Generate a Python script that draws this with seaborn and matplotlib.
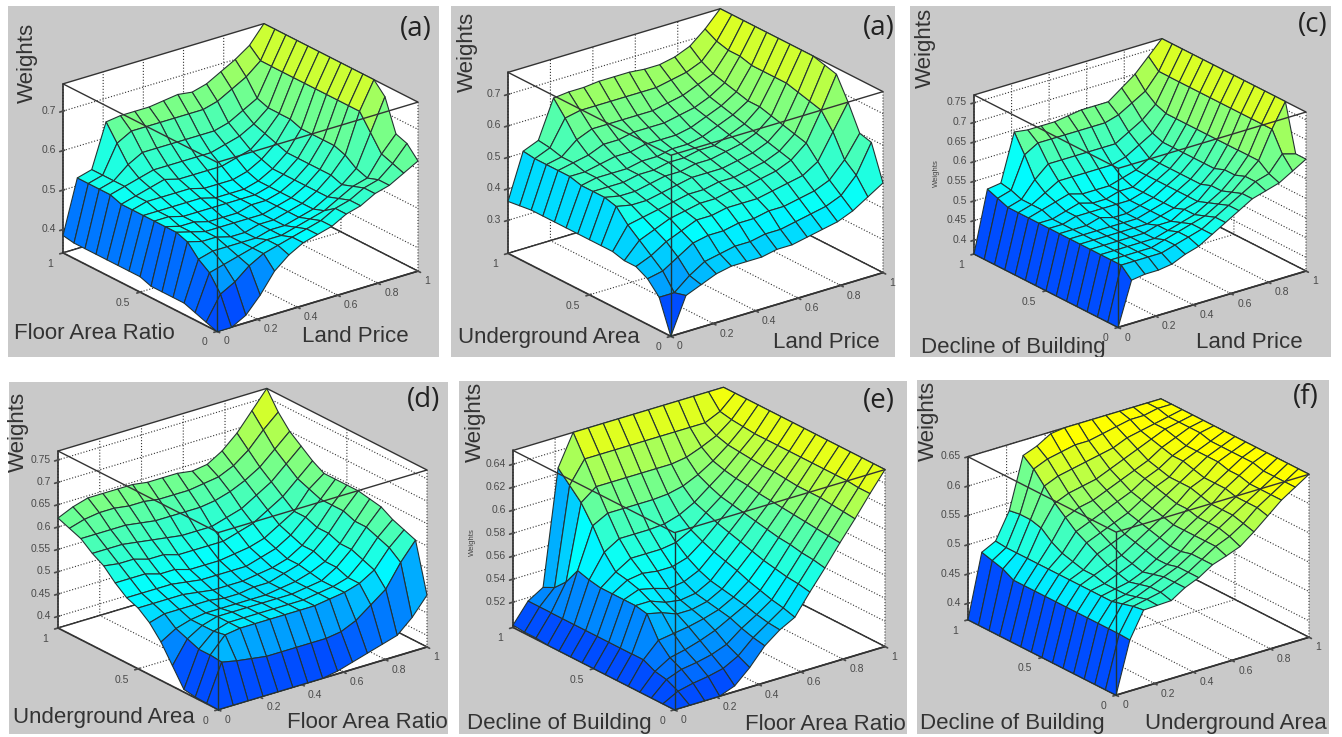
import numpy as np
import matplotlib
matplotlib.use("Agg")
import matplotlib.pyplot as plt
from matplotlib.patches import Rectangle
from matplotlib.colors import Normalize, LinearSegmentedColormap
from mpl_toolkits.mplot3d import proj3d
import seaborn as sns

sns.set_theme(style="white")
plt.rcParams["font.family"] = ["Liberation Sans", "DejaVu Sans"]
plt.rcParams["grid.linestyle"] = ":"
plt.rcParams["grid.color"] = "#333333"
plt.rcParams["grid.linewidth"] = 0.8
plt.rcParams["axes.edgecolor"] = "#333333"

# Rows follow the left axis (0 to 1), columns the right axis (0 to 1). Values in hundredths.
weights_a = [
 [34,34,36,40,45,48,50,51,52,54,55,57,58,60,62],
 [35,41,43,46,48,49,50,51,52,54,55,57,58,61,65],
 [36,45,46,47,48,49,49,50,51,52,54,56,57,62,66],
 [37,47,48,48,48,48,49,49,50,51,53,55,58,66,74],
 [37,50,49,49,48,48,49,49,50,51,53,56,60,70,76.9],
 [37,51,50,49,49,49,49,49,50,51,53,56,61,70,76.9],
 [37,51,50,50,49,49,49,50,50,51,53,56,61,70,76.9],
 [38,51,51,50,50,50,50,50,50,51,53,56,61,70,76.9],
 [38,51,51,51,51,51,50,50,50,51,53,56,61,70,76.9],
 [38,51,52,52,52,52,51,51,51,52,54,57,62,70,76.9],
 [38,51,52,53,54,53,53,53,53,54,55,58,62,70,76.9],
 [38,52,53,54,55,55,55,55,55,56,57,59,62,70,76.9],
 [38,52,53,56,58,58,58,58,58,58,59,61,63,70,76.9],
 [38,52,53,60,62,62,62,62,62,62,63,65,67,70,76.9],
 [38.5,52,53,64,64.5,64.5,64.5,65,65.5,65,66,68,70,72.5,76.9],
]
weights_b = [
 [19.5,31,33,35,36,36,36,37,37,38,39,40,42,45,48],
 [30,30,34,37,38,39,39,40,40,41,42,43,45,50,59],
 [34,35,38,41,42,42,43,43,44,44,45,46,48,53,60],
 [36,38,41,43,45,45,46,46,46,47,48,49,52,60,68],
 [36,41,43,45,46,47,47,48,48,49,50,52,56,65,75],
 [37,44,45,46,47,48,48,49,49,50,51,53,57,66,76],
 [37,48,47,47,48,49,50,50,50,51,52,54,58,67,77],
 [37,49,48,48,49,50,50,51,51,52,53,55,59,68,77],
 [37,49,49,49,50,50,51,51,52,52,54,56,60,68,77],
 [37,49,50,50,50,51,51,52,52,53,55,57,60,68,77],
 [37,50,50,51,52,52,53,53,53,54,56,58,61,68,77],
 [37,50,51,52,54,54,55,55,55,56,57,59,62,69,77],
 [37,50,51,55,57,57,57,57,57,58,59,61,63,69,77],
 [36.5,50,52,60,61,61,61,61,61,61,62,63,65,70,77],
 [36,50.5,52.5,64.5,65,65,65.5,65.5,65.5,65,65,66,68,72,77],
]
weights_c = [
 [36.5,47.5,48,48,48.5,50,51,53,55,57,59,60,61,63,65],
 [36.5,50,50,50,50,51,52,53,55,57,59,61,62,66,65],
 [36.5,50,50,50,50,51,52,53,54,56,58,61,64,71,77],
 [36.5,50,50,50,50,50,51,52,53,55,57,60,64,71,77],
 [36.5,50,50,50,50,50,51,51,53,54,57,60,64,71,77],
 [36.5,50,50,50,50,50,50,51,52,54,56,59,64,71,77],
 [36.5,50,50,50,50,50,50,51,52,54,56,59,64,71,77],
 [36.5,50,50,50,51,50,50,51,52,54,56,59,64,71,77],
 [36.5,50,50,51,51,51,51,51,52,54,56,59,64,71,77],
 [36.5,50,50,51,52,51,51,52,52,54,56,59,64,71,77],
 [36.5,50,51,52,53,52,52,52,53,54,56,59,64,71,77],
 [36.5,50,51,53,55,55,55,55,55,56,58,60,64,71,77],
 [36.5,50,51,55,58,58,58,58,58,58,60,62,65,71,77],
 [36.5,51,52,60,62,62,62,62,62,62,63,65,67,71,77],
 [36.5,52,52.5,64.5,64,64,64,64.5,65,65,65,67.5,70,73.5,77],
]
weights_d = [
 [37.4,37.4,37.4,37.4,37.4,37.4,37.4,37.4,38,39,40,41,42,45,49],
 [37.5,45.7,45,44.5,44,44,44,44,44,44.5,46,48.5,51,56,60],
 [37.6,46,49.5,50,50,50,50,50,50,50.5,51,52,54,58,61],
 [38,46,49,50,50,50,50,50,50,50.5,51,52,55,59,62],
 [42,47,49,50,50,50,50,50,50,50.5,51,53,56,60,63.5],
 [46,48,49,49.5,49.5,49.5,49.5,49.5,50,50.5,51.5,53,56,60,64],
 [49,50,50,50,50,49.5,49.5,50,50,51,52,54,57,61,64.5],
 [51,51,51,51,50.5,50,50,50,50.5,51,52,54,57,61,64.5],
 [52,52,52,52,51.5,51,51,51,51,52,53,55,58,61,64.5],
 [54,54,54,53,53,52,52,52,52.5,53,54,56,58,62,64.5],
 [56.5,56,56,55,55,54,54,54,54,55,56,58,60,63,66],
 [58,58,58,57.5,57,56.5,56,56,56,57,58,60,62,65,68],
 [60,60,60,60,59.5,59,59,59,59,59.5,60.5,62,64,67,70],
 [61,62,62.5,62.5,62,62,61.5,61.5,61.5,62,62.5,64,66.5,70,73],
 [62,63.5,64.5,64.5,64.5,64.5,64,64,64,63.5,64,66,69,73,77],
]
weights_e = [
 [49.8,49.8,49.8,49.8,50.3,51.5,53,54,54.7,56.5,58.2,60,61.7,63.5,65.2],
 [49.8,50.5,50.8,51,51.3,52,53.2,54.1,55,56.7,58.4,60.1,61.8,63.5,65.2],
 [49.8,51,51.5,51.7,52,52.5,53.5,54.3,55.2,56.8,58.5,60.2,61.9,63.6,65.2],
 [49.8,51.2,52,52.3,52.7,53.2,53.9,54.6,55.5,57,58.7,60.3,62,63.6,65.2],
 [49.8,51.7,53,53.2,53.4,53.7,54.1,54.8,55.8,57.2,58.8,60.4,62,63.6,65.2],
 [49.8,51.7,54.8,54.5,54,54,54.3,55,56.2,57.5,59,60.5,62,63.6,65.2],
 [49.8,51.7,55,55,54.5,54.3,54.5,55.2,56.5,57.8,59.2,60.6,62.1,63.6,65.2],
 [49.8,51.7,55,55.5,55.2,54.8,55,55.6,56.8,58.1,59.4,60.7,62.2,63.6,65.2],
 [49.8,51.7,55,55.8,56,55.8,55.8,56.2,57.2,58.4,59.6,60.9,62.2,63.6,65.2],
 [49.8,51.7,55,56,56.8,56.8,56.8,57,57.7,58.8,59.8,61,62.3,63.6,65.2],
 [49.8,51.7,55.2,57.2,58,58,58,58.1,58.5,59.2,60.2,61.2,62.4,63.6,65.2],
 [49.8,51.7,55.5,59,59.7,59.7,59.7,59.7,59.8,60.1,60.7,61.5,62.5,63.7,65.2],
 [49.9,51.7,54,60.5,61.5,61.5,61.5,61.5,61.5,61.5,61.7,62.2,62.8,63.8,65.2],
 [49.9,51.7,53,61.5,63.4,63.4,63.4,63.4,63.4,63.4,63.4,63.4,63.4,64,65.2],
 [50,51.7,52.5,62.5,65.2,65.2,65.2,65.2,65.2,65.2,65.2,65.2,65.2,65.2,65.2],
]
weights_f = [
 [37.2,45.9,50.3,50.4,50.5,52,53,54.5,55.3,56.2,58,60,62,63.5,65],
 [37.2,46,50,50.5,51,52,53,54.5,56,57,58.5,60.5,62,63.5,65],
 [37.2,46,49.5,50,51,52,53,54.5,56,57.5,59,60.5,62,63.5,65],
 [37.2,46,49,49.5,50.5,51.5,52.5,54,56,57.5,59,60.5,62,63.5,65],
 [37.2,46,49,49.5,50,51,52.5,54,56,57.5,59,61,62.5,64,65],
 [37.2,46,49,49.5,50.5,51.5,53,54.5,56,58,59.5,61,62.5,64,65],
 [37.2,46,49,50,51,52,53.5,55,56.5,58,60,61,63,64,65],
 [37.2,46,49,50,52,53,54,55.5,57,58.5,60,61.5,63,64,65],
 [37.2,46,49,50.5,53,54,55,56,57.5,59,60,62,63,64,65],
 [37.2,46,49,51,54,55,56,57,58,59.5,60.5,62,63,64.5,65],
 [37.2,46,49,52,55.5,56.5,57,58,59,60,61,62.5,63.5,64.5,65],
 [37.2,46,49,53.5,57,58,58.5,59,60,61,62,63,64,64.5,65],
 [37.2,47,49,54,59,60,60.5,61,61.5,62,63,63.5,64,64.5,65],
 [37.2,47.5,49,54,61,62,62.5,63,63,63.5,64,64.5,64.5,65,65],
 [37.2,48,49.2,53.7,62.4,63.3,64.7,65,65,65,65,65,65,65,65],
]

grid_positions = [i / 14 for i in range(15)]
x_ticks = [0, 0.2, 0.4, 0.6, 0.8, 1]
y_ticks = [0, 0.5, 1]
z_ticks_a = [0.4, 0.5, 0.6, 0.7]
z_ticks_b = [0.3, 0.4, 0.5, 0.6, 0.7]
z_ticks_c = [0.4, 0.45, 0.5, 0.55, 0.6, 0.65, 0.7, 0.75]
z_ticks_d = [0.4, 0.45, 0.5, 0.55, 0.6, 0.65, 0.7, 0.75]
z_ticks_e = [0.52, 0.54, 0.56, 0.58, 0.6, 0.62, 0.64]
z_ticks_f = [0.4, 0.45, 0.5, 0.55, 0.6, 0.65]

W, H = 1342, 737
fig = plt.figure(figsize=(W / 100, H / 100), dpi=100, facecolor="white")
surface_cmap = LinearSegmentedColormap.from_list(
    "part_jet", [(0, "#004dff"), (0.39, "#00ffff"), (0.70, "#80ff80"), (1, "#ffff00")])

ELEV, AZIM = 23, -127.5
panels = [
 dict(z=weights_a, zt=z_ticks_a, zlim=(.341,.769), c=(.34,.75), bg=(8,6,439,357), box=(63,418,24,331), hz=169,
      ly="Floor Area Ratio", lx="Land Price", tag="(a)", lyp=(14,334), lxp=(302,337), wp=(27,63), tp=(400,29)),
 dict(z=weights_b, zt=z_ticks_b, zlim=(.195,.77), c=(.20,.74), bg=(451,6,895,357), box=(508,883,11,334), hz=181,
      ly="Underground Area", lx="Land Price", tag="(a)", lyp=(458,337), lxp=(773,342), wp=(467,52), tp=(863,28)),
 dict(z=weights_c, zt=z_ticks_c, zlim=(.365,.77), c=(.365,.745), bg=(910,6,1331,357), box=(974,1306,41,325), hz=159,
      ly="Decline of Building", lx="Land Price", tag="(c)", lyp=(921,347), lxp=(1196,342), wp=(925,48), tp=(1298,25),
      small=(936,173)),
 dict(z=weights_d, zt=z_ticks_d, zlim=(.374,.77), c=(.374,.74), bg=(9,382,448,734), box=(58,427,389,709), hz=177,
      ly="Underground Area", lx="Floor Area Ratio", tag="(d)", lyp=(13,718), lxp=(287,723), wp=(18,432), tp=(407,400)),
 dict(z=weights_e, zt=z_ticks_e, zlim=(.498,.652), c=(.498,.645), bg=(459,381,907,734), box=(513,885,392,705), hz=177,
      ly="Decline of Building", lx="Floor Area Ratio", tag="(e)", lyp=(467,724), lxp=(745,724), wp=(475,422), tp=(863,401),
      small=(472,542)),
 dict(z=weights_f, zt=z_ticks_f, zlim=(.372,.65), c=(.372,.625), bg=(917,380,1329,734), box=(968,1309,400,694), hz=163,
      ly="Decline of Building", lx="Underground Area", tag="(f)", lyp=(920,724), lxp=(1145,724), wp=(928,421), tp=(1293,397)),
]


def fx(x):
    return x / W


def fy(y):
    return 1 - y / H


def fit_axes(ax, left, right, top, bottom, zlim):
    """Scale and shift the square 3D axes so its projected box lands on the wanted pixels."""
    corners = [(a, b, c) for a in (0, 1) for b in (0, 1) for c in zlim]
    for _ in range(3):
        ax.apply_aspect()
        M = ax.get_proj()
        xs, ys, _z = proj3d.proj_transform(*zip(*corners), M)
        pts = ax.transData.transform(np.column_stack([xs, ys]))
        l, r = pts[:, 0].min(), pts[:, 0].max()
        b, t = pts[:, 1].min(), pts[:, 1].max()
        pos = ax.get_position(original=False)
        side = pos.width * W * (right - left) / (r - l)
        cx, cy = (l + r) / 2, (b + t) / 2
        ax_cx, ax_cy = (pos.x0 + pos.width / 2) * W, (pos.y0 + pos.height / 2) * H
        rel_x = (cx - ax_cx) * side / (pos.width * W)
        rel_y = (cy - ax_cy) * side / (pos.width * W)
        new_cx = (left + right) / 2 - rel_x
        new_cy = (H - (top + bottom) / 2) - rel_y
        ax.set_position([(new_cx - side / 2) / W, (new_cy - side / 2) / H, side / W, side / H])


for p in panels:
    x0, y0, x1, y1 = p["bg"]
    rect = Rectangle((fx(x0), fy(y1)), (x1 - x0) / W, (y1 - y0) / H, transform=fig.transFigure,
                     facecolor="#c9c9c9", edgecolor="none", zorder=-5)
    fig.add_artist(rect)

for p in panels:
    left, right, top, bottom = p["box"]
    ax = fig.add_axes([fx(left), fy(bottom), (right - left) / W, (right - left) / H],
                      projection="3d", computed_zorder=False)
    ax.patch.set_alpha(0)
    ax.set_proj_type("ortho")
    ax.view_init(elev=ELEV, azim=AZIM)
    scale = (right - left) / (np.cos(np.radians(37.5)) + np.sin(np.radians(37.5)))
    ax.set_box_aspect((1, 1, p["hz"] / (scale * np.cos(np.radians(ELEV)))))

    X, Y = np.meshgrid(grid_positions, grid_positions)
    Z = np.array(p["z"], dtype=float) / 100
    face_colors = surface_cmap(Normalize(*p["c"], clip=True)(Z))
    ax.plot_surface(X, Y, Z, rstride=1, cstride=1, facecolors=face_colors,
                    edgecolor="#243333", linewidth=0.8, antialiased=True, shade=False, zorder=2)

    ax.set_xlim(0, 1)
    ax.set_ylim(0, 1)
    ax.set_zlim(*p["zlim"])
    ax.set_xticks(x_ticks)
    ax.set_xticklabels([f"{v:g}" for v in x_ticks], ha="left", va="center")
    ax.set_yticks(y_ticks)
    ax.set_yticklabels([f"{v:g}" for v in y_ticks], ha="right", va="center")
    ax.set_zticks(p["zt"])
    ax.set_zticklabels([f"{v:g}" for v in p["zt"]], ha="right", va="center")
    ax.tick_params(labelsize=7.5, labelcolor="#4a4a4a", colors="#4a4a4a", length=2)
    ax.tick_params(axis="x", pad=-2)
    ax.tick_params(axis="y", pad=-1)
    ax.tick_params(axis="z", pad=-5)
    ax.zaxis.set_ticks_position("upper")
    for axis in (ax.xaxis, ax.yaxis, ax.zaxis):
        axis.set_pane_color((1, 1, 1, 1))
        axis.pane.set_edgecolor("#333333")
        axis.pane.set_linewidth(1.0)
        axis.line.set_color("#333333")

    zlo, ztop = p["zlim"]
    ax.plot([0, 0], [0, 0], [zlo, ztop], color="#203535", lw=1.0, zorder=5)
    ax.plot([0, 0, 1], [1, 0, 0], [ztop, ztop, ztop], color="#333333", lw=1.0, zorder=5)
    fit_axes(ax, left, right, top, bottom, p["zlim"])

    clip = Rectangle((fx(p["bg"][0]), fy(p["bg"][3])), (p["bg"][2] - p["bg"][0]) / W, (p["bg"][3] - p["bg"][1]) / H,
                     transform=fig.transFigure)
    for label, (tx, ty) in ((p["ly"], p["lyp"]), (p["lx"], p["lxp"])):
        t = fig.text(fx(tx), fy(ty), label, fontsize=16, color="#333333", ha="left", va="center", clip_on=True)
        t.set_clip_path(clip)
    fig.text(fx(p["wp"][0]), fy(p["wp"][1]), "Weights", fontsize=16, color="#333333", rotation=90,
             ha="center", va="center")
    fig.text(fx(p["tp"][0]), fy(p["tp"][1]), p["tag"], fontsize=20, color="#222222", family="Open Sans",
             ha="left", va="center")
    if "small" in p:
        fig.text(fx(p["small"][0]), fy(p["small"][1]), "Weights", fontsize=5.5, color="#444444", rotation=90,
                 ha="center", va="center")

fig.savefig("out.png", dpi=100)
